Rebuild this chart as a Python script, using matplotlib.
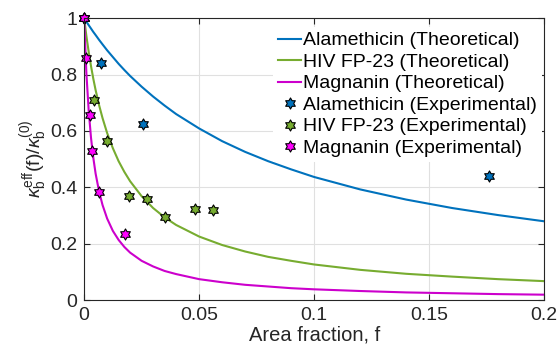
import matplotlib
matplotlib.use("Agg")
import matplotlib.pyplot as plt
from matplotlib.path import Path

# ----------------------------------------
# Data
# ----------------------------------------
f_theory = [0, 0.001, 0.002, 0.003, 0.004, 0.005, 0.0065, 0.008, 0.01,
            0.0125, 0.015, 0.0175, 0.02, 0.025, 0.03, 0.035, 0.04, 0.05,
            0.06, 0.07, 0.08, 0.09, 0.1, 0.12, 0.14, 0.16, 0.18, 0.2]

alam_theory = [1.0, 0.987, 0.975, 0.963, 0.951, 0.940, 0.923, 0.907, 0.886,
               0.862, 0.838, 0.816, 0.795, 0.757, 0.722, 0.690, 0.660, 0.609,
               0.564, 0.526, 0.493, 0.464, 0.437, 0.393, 0.357, 0.327, 0.302, 0.280]

hiv_theory = [1.0, 0.936, 0.880, 0.830, 0.785, 0.745, 0.692, 0.646, 0.593,
              0.539, 0.493, 0.455, 0.422, 0.369, 0.327, 0.294, 0.267, 0.226,
              0.196, 0.173, 0.154, 0.140, 0.127, 0.108, 0.094, 0.084, 0.075, 0.068]

magn_theory = [1.0, 0.803, 0.671, 0.576, 0.505, 0.449, 0.386, 0.338, 0.290,
               0.246, 0.214, 0.189, 0.169, 0.140, 0.120, 0.104, 0.093, 0.075,
               0.064, 0.055, 0.049, 0.043, 0.039, 0.033, 0.028, 0.025, 0.022, 0.020]

alam_f_exp = [0, 0.0073, 0.0257, 0.176]
alam_exp = [1.0, 0.84, 0.626, 0.442]

hiv_f_exp = [0, 0.0044, 0.0098, 0.0196, 0.0274, 0.0351, 0.0481, 0.0561]
hiv_exp = [1.0, 0.709, 0.565, 0.370, 0.360, 0.297, 0.324, 0.320]

magn_f_exp = [0, 0.001, 0.0025, 0.0036, 0.0063, 0.0179]
magn_exp = [1.0, 0.86, 0.655, 0.530, 0.384, 0.234]

# ----------------------------------------
# Style
# ----------------------------------------
plt.rcParams["font.family"] = ["Liberation Sans", "DejaVu Sans"]
plt.rcParams["mathtext.fontset"] = "custom"
plt.rcParams["mathtext.rm"] = "Liberation Sans"
plt.rcParams["mathtext.it"] = "Liberation Sans:italic"

BLUE = "#0072BD"
GREEN = "#77AC30"
MAG_LINE = "#CC00CC"
MAG_FILL = "#FF00FF"
FS = 14

hexagram = Path.unit_regular_star(6, 0.577)

fig = plt.figure(figsize=(5.57, 3.48), dpi=100)
ax = fig.add_axes([0.151, 0.137, 0.826, 0.811])

ax.plot(f_theory, alam_theory, color=BLUE, lw=1.5, label="Alamethicin (Theoretical)")
ax.plot(f_theory, hiv_theory, color=GREEN, lw=1.5, label="HIV FP-23 (Theoretical)")
ax.plot(f_theory, magn_theory, color=MAG_LINE, lw=1.5, label="Magnanin (Theoretical)")

ax.plot(alam_f_exp, alam_exp, ls="none", marker=hexagram, ms=8, clip_on=False,
        mfc=BLUE, mec="black", mew=0.8, label="Alamethicin (Experimental)")
ax.plot(hiv_f_exp, hiv_exp, ls="none", marker=hexagram, ms=8, clip_on=False,
        mfc=GREEN, mec="black", mew=0.8, label="HIV FP-23 (Experimental)")
ax.plot(magn_f_exp, magn_exp, ls="none", marker=hexagram, ms=8, clip_on=False,
        mfc=MAG_FILL, mec="black", mew=0.8, label="Magnanin (Experimental)")

ax.set_xlim(0, 0.2)
ax.set_ylim(0, 1)
ax.set_xticks([0, 0.05, 0.1, 0.15, 0.2])
ax.set_xticklabels(["0", "0.05", "0.1", "0.15", "0.2"])
ax.set_yticks([0, 0.2, 0.4, 0.6, 0.8, 1])
ax.set_yticklabels(["0", "0.2", "0.4", "0.6", "0.8", "1"])
ax.tick_params(direction="in", top=True, right=True, labelsize=FS,
               length=4, width=0.8, colors="#262626", pad=5)
ax.grid(True, color="#E0E0E0", lw=0.8)
ax.set_axisbelow(True)
for sp in ax.spines.values():
    sp.set_color("#262626")
    sp.set_linewidth(0.8)

ax.set_xlabel("Area fraction, f", fontsize=14.5, color="#262626", labelpad=1)
ax.set_ylabel(r"$\kappa_\mathrm{b}^\mathrm{eff}\mathrm{(f)}/\kappa_\mathrm{b}^\mathrm{(0)}$",
              fontsize=FS, color="#262626", labelpad=0)

leg = ax.legend(loc="upper right", bbox_to_anchor=(1.006, 0.986), fontsize=FS,
                frameon=True, framealpha=1, edgecolor="white", fancybox=False,
                handlelength=1.2, handletextpad=0.1, labelspacing=0.2,
                borderpad=0.25, borderaxespad=0.25)
leg.get_frame().set_linewidth(0)

fig.savefig("out.png", dpi=100)
